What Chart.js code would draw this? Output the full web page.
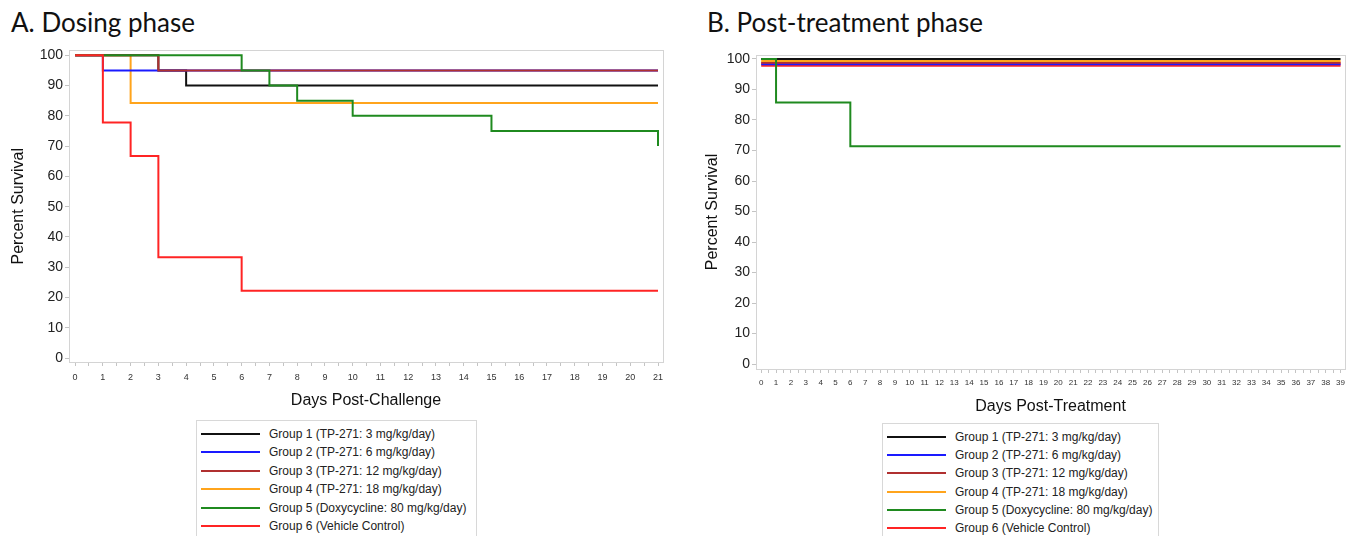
<!DOCTYPE html>
<html>
<head>
<meta charset="utf-8">
<script src="https://cdn.jsdelivr.net/npm/chart.js@4"></script>
<style>
  html, body { margin:0; padding:0; background:#fff; width:1350px; height:536px; overflow:hidden; }
  .wrap { position:relative; width:1350px; height:536px; }
  canvas { position:absolute; }
  .title { position:absolute; font-family:Lato, "Open Sans", sans-serif; font-size:26px; color:#111; white-space:nowrap; }
  .legend { position:absolute; border:1px solid #d8d8d8; background:#fff; font-family:"Liberation Sans", Arial, sans-serif; font-size:12px; color:#222; }
  .row { position:absolute; left:0; height:18px; white-space:nowrap; }
  .sample { position:absolute; height:0; border-top:2px solid #000; }
  .lbl { position:absolute; line-height:18px; }
</style>
</head>
<body>
<div class="wrap">
  <div class="title" id="titleA" style="left:11px; top:6px;">A. Dosing phase</div>
  <div class="title" id="titleB" style="left:707px; top:6px;">B. Post-treatment phase</div>
  <canvas id="chartA" width="670" height="375" style="left:0px; top:40px;"></canvas>
  <canvas id="chartB" width="660" height="380" style="left:690px; top:40px;"></canvas>
  <div class="legend" id="legendA" style="left:196px; top:420px; width:279px; height:130px;"></div>
  <div class="legend" id="legendB" style="left:882px; top:423px; width:275px; height:130px;"></div>
</div>
<script>
// ---- Data ----
const groupLabels = [
  "Group 1 (TP-271: 3 mg/kg/day)",
  "Group 2 (TP-271: 6 mg/kg/day)",
  "Group 3 (TP-271: 12 mg/kg/day)",
  "Group 4 (TP-271: 18 mg/kg/day)",
  "Group 5 (Doxycycline: 80 mg/kg/day)",
  "Group 6 (Vehicle Control)"
];
const groupColors = ["#111111", "#1a1aff", "#b03030", "#ffa41c", "#1f8a1f", "#ff2424"];

// Panel A: Dosing phase (days post-challenge, percent survival)
const daysA1 = [0, 3, 4, 21];            const survA1 = [100, 95, 90, 90];
const daysA2 = [0, 1, 21];               const survA2 = [100, 95, 95];
const daysA3 = [0, 3, 21];               const survA3 = [100, 95, 95];
const daysA4 = [0, 2, 21];               const survA4 = [100, 84.2, 84.2];
const daysA5 = [0, 6, 7, 8, 10, 15, 21]; const survA5 = [100, 95, 90, 85, 80, 75, 70];
const daysA6 = [0, 1, 2, 3, 6, 21];      const survA6 = [100, 77.8, 66.7, 33.3, 22.2, 22.2];

// Panel B: Post-treatment phase (days post-treatment, percent survival)
const daysB1 = [0, 39];        const survB1 = [100, 100];
const daysB2 = [0, 39];        const survB2 = [98.2, 98.2];
const daysB3 = [0, 39];        const survB3 = [98.8, 98.8];
const daysB4 = [0, 39];        const survB4 = [99.3, 99.3];
const daysB5 = [0, 1, 6, 39];  const survB5 = [100, 85.7, 71.4, 71.4];
const daysB6 = [0, 39];        const survB6 = [98.2, 98.2];

const yTicks = [0, 10, 20, 30, 40, 50, 60, 70, 80, 90, 100];
const xTicksA = Array.from({length: 22}, (_, i) => i);
const xTicksB = Array.from({length: 40}, (_, i) => i);

// ---- Helpers ----
function pts(xs, ys) { return xs.map((x, i) => ({x: x, y: ys[i]})); }

const frame = {
  id: 'frame',
  afterDatasetsDraw(chart) {
    const a = chart.chartArea, c = chart.ctx;
    c.save();
    c.strokeStyle = '#d4d4d4';
    c.lineWidth = 1;
    c.strokeRect(Math.round(a.left) + 0.5, Math.round(a.top) + 0.5, Math.round(a.right - a.left), Math.round(a.bottom - a.top));
    c.restore();
  }
};

function makeChart(id, datasets, cfg) {
  return new Chart(document.getElementById(id), {
    type: 'line',
    data: { datasets: datasets },
    plugins: [frame],
    options: {
      responsive: false,
      animation: false,
      events: [],
      layout: { padding: cfg.padding },
      plugins: { legend: { display: false }, tooltip: { enabled: false } },
      elements: { point: { radius: 0 }, line: { tension: 0 } },
      scales: {
        x: {
          type: 'linear', bounds: 'data', min: cfg.xmin, max: cfg.xmax,
          afterBuildTicks(s) {
            const t = [];
            cfg.xticks.forEach((v, i) => { t.push({value: v}); if (i < cfg.xticks.length - 1) t.push({value: v + 0.5}); });
            s.ticks = t;
          },
          afterFit(s) { s.height = cfg.xh; },
          border: { display: false },
          grid: { drawOnChartArea: false, drawTicks: true, tickLength: 4, color: '#c4c4c4' },
          ticks: {
            autoSkip: false, maxRotation: 0, padding: cfg.xpad, color: '#333',
            font: { family: '"Liberation Sans", Arial, sans-serif', size: cfg.xfont },
            callback: (v) => Number.isInteger(v) ? String(v) : ''
          },
          title: { display: true, text: cfg.xtitle, color: '#111',
            font: { family: '"Liberation Sans", Arial, sans-serif', size: 16 },
            padding: { top: 0, bottom: cfg.xtpad } }
        },
        y: {
          type: 'linear', bounds: 'data', min: cfg.ymin, max: cfg.ymax,
          afterBuildTicks(s) { s.ticks = yTicks.map(v => ({value: v})); },
          afterFit(s) { s.width = cfg.yw; },
          border: { display: false },
          grid: { drawOnChartArea: false, drawTicks: true, tickLength: 4, color: '#c4c4c4' },
          ticks: { padding: 2, color: '#222',
            font: { family: '"Liberation Sans", Arial, sans-serif', size: 14 } },
          title: { display: true, text: 'Percent Survival', color: '#111',
            font: { family: '"Liberation Sans", Arial, sans-serif', size: 16 },
            padding: { top: cfg.ytpad, bottom: 0 } }
        }
      }
    }
  });
}

function ds(i, xs, ys, order, width) {
  return { label: groupLabels[i], data: pts(xs, ys), borderColor: groupColors[i],
           borderWidth: width || 2, stepped: true, order: order, fill: false };
}

// Panel A — order: lower draws on top
makeChart('chartA', [
  ds(0, daysA1, survA1, 4),
  ds(1, daysA2, survA2, 3),
  ds(2, daysA3, survA3, 2),
  ds(3, daysA4, survA4, 5),
  ds(4, daysA5, survA5, 1),
  ds(5, daysA6, survA6, 0)
], { padding: {top: 9, right: 7, left: 0, bottom: 0}, xmin: -0.22, xmax: 21.18, ymin: -1.3, ymax: 101.6,
     xticks: xTicksA, xh: 53, yw: 69, xpad: 6, xfont: 9, xtitle: 'Days Post-Challenge', xtpad: 4.4, ytpad: 9.4 });

// Panel B
makeChart('chartB', [
  ds(0, daysB1, survB1, 1),
  ds(1, daysB2, survB2, 2, 1.5),
  ds(2, daysB3, survB3, 4),
  ds(3, daysB4, survB4, 3),
  ds(4, daysB5, survB5, 0),
  ds(5, daysB6, survB6, 5, 4.5)
], { padding: {top: 15, right: 1, left: 0, bottom: 0}, xmin: -0.35, xmax: 39.31, ymin: -1.6, ymax: 101.3,
     xticks: xTicksB, xh: 51, yw: 66, xpad: 5, xfont: 8, xtitle: 'Days Post-Treatment', xtpad: 3.4, ytpad: 13.4 });

// Legends built from the same label/colour arrays
function buildLegend(id, rowTop, rowStep, sampleLeft, sampleWidth, textLeft) {
  const box = document.getElementById(id);
  groupLabels.forEach((lab, i) => {
    const r = document.createElement('div');
    r.className = 'row';
    r.style.top = (rowTop + i * rowStep - 9) + 'px';
    r.style.width = '100%';
    const s = document.createElement('div');
    s.className = 'sample';
    s.style.left = sampleLeft + 'px';
    s.style.width = sampleWidth + 'px';
    s.style.top = '8px';
    s.style.borderTopColor = groupColors[i];
    const t = document.createElement('div');
    t.className = 'lbl';
    t.style.left = textLeft + 'px';
    t.textContent = lab;
    r.appendChild(s); r.appendChild(t);
    box.appendChild(r);
  });
}
buildLegend('legendA', 13, 18.4, 4, 59, 72);
buildLegend('legendB', 13, 18.2, 4, 59, 72);
</script>
</body>
</html>
